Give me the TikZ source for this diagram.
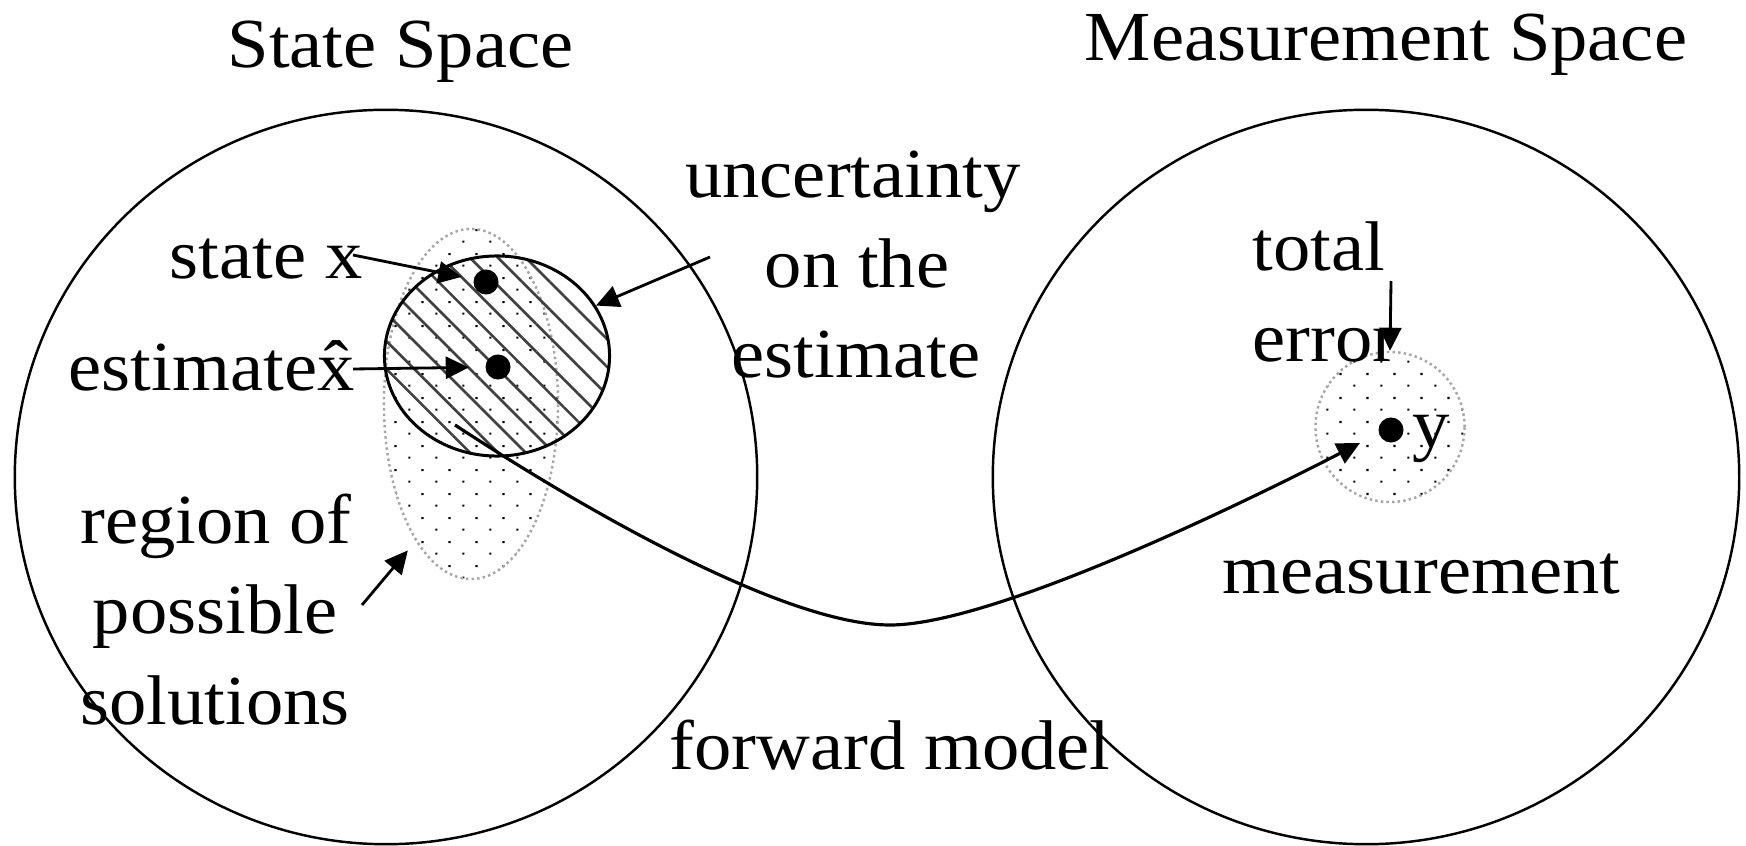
\documentclass[tikz,border=0pt]{standalone}
\usepackage{fontspec}
\setmainfont{Liberation Serif}[FakeStretch=1.06]
\usetikzlibrary{patterns.meta,arrows.meta,shapes.geometric}
\pgfdeclarepatternformonly{sparsedots}{\pgfpointorigin}{\pgfqpoint{7.68pt}{6.83pt}}{\pgfqpoint{7.68pt}{6.83pt}}{%
  \pgfpathrectangle{\pgfqpoint{1pt}{1pt}}{\pgfqpoint{0.6pt}{0.6pt}}%
  \pgfpathrectangle{\pgfqpoint{4.84pt}{4.415pt}}{\pgfqpoint{0.6pt}{0.6pt}}%
  \pgfusepath{fill}}
\begin{document}
\begin{tikzpicture}[x=0.01cm,y=-0.01cm,
  lbl/.style={inner sep=0pt, font=\fontsize{20pt}{24pt}\selectfont},
  bigell/.style={draw, line width=0.7pt},
  arr/.style={-{Triangle[length=0.23cm,width=0.22cm]}, line width=0.8pt},
  dotnode/.style={circle, fill, inner sep=0pt, minimum size=0.25cm},
  grayout/.style={draw=gray!70, line width=0.7pt, dash pattern=on 0.7pt off 0.9pt},
  dotfill/.style={pattern=sparsedots, pattern color=black},
  hatchfill/.style={pattern={Lines[angle=-45,distance=5.6pt,line width=0.75pt]}, pattern color=black!75},
]
\useasboundingbox (0,0) rectangle (1746,846);
\fill[white] (0,0) rectangle (1746,846);

% big spaces
\draw[bigell] (386,477) ellipse [x radius=3.71cm, y radius=3.67cm];
\draw[bigell] (1366,477) ellipse [x radius=3.73cm, y radius=3.67cm];

% regions
\node[ellipse, minimum width=1.74cm, minimum height=3.5cm, inner sep=0pt, dotfill, grayout] (sol) at (471,404) {};
\node[ellipse, minimum width=2.25cm, minimum height=2.0cm, inner sep=0pt, hatchfill, draw, line width=0.85pt] (unc) at (497,356) {};
\node[ellipse, minimum width=1.49cm, minimum height=1.5cm, inner sep=0pt, dotfill, grayout] (errc) at (1390,427) {};

% points
\node[dotnode] (xdot) at (486,282) {};
\node[dotnode] (xhat) at (498,367) {};
\node[dotnode] (ydot) at (1391,430) {};

% labels
\node[lbl, anchor=base west] (t1) at (227,68) {State Space};
\node[lbl, anchor=base west] (t2) at (1084,61) {Measurement Space};
\node[lbl, anchor=base] (u1) at (853,198) {uncertainty};
\node[lbl, anchor=base] (u2) at (857,288) {on the};
\node[lbl, anchor=base] (u3) at (856,378) {estimate};
\node[lbl, anchor=base west] (sx) at (169,279) {state x};
\node[lbl, anchor=base west] (ex) at (68,390) {estimate\^{x}};
\node[lbl, anchor=base] (r1) at (216,543) {region of};
\node[lbl, anchor=base] (r2) at (215,633) {possible};
\node[lbl, anchor=base] (r3) at (215,724) {solutions};
\node[lbl, anchor=base] (fm) at (890,769) {forward model};
\node[lbl, anchor=base west] (te1) at (1252,271) {total};
\node[lbl, anchor=base west] (te2) at (1252,362) {error};
\node[lbl, anchor=base west] (ms) at (1222,593) {measurement};
\node[lbl, anchor=base west] (yl) at (1412,447) {y};

% connectors
\coordinate (sxa) at (353,255);
\coordinate (exa) at (353,369);
\coordinate (ua) at (710,257);
\coordinate (ra) at (362,605);
\coordinate (ta) at (1391,281);
\coordinate (fa) at (455,425);
\coordinate (fmin) at (890,625);
\coordinate (fb) at (1360,443);

\draw[arr, shorten >=0.12cm] (sxa) -- (xdot);
\draw[arr, shorten >=0.16cm] (exa) -- (xhat);
\draw[arr] (ua) -- (unc.27);
\draw[arr, shorten >=0.12cm] (ra) -- (sol.248);
\draw[arr] (ta) -- (errc.north);
\draw[arr, line width=0.9pt] (fa) .. controls (600,520) and (790,625) .. (fmin)
  .. controls (990,625) and (1230,510) .. (fb);
\end{tikzpicture}
\end{document}
